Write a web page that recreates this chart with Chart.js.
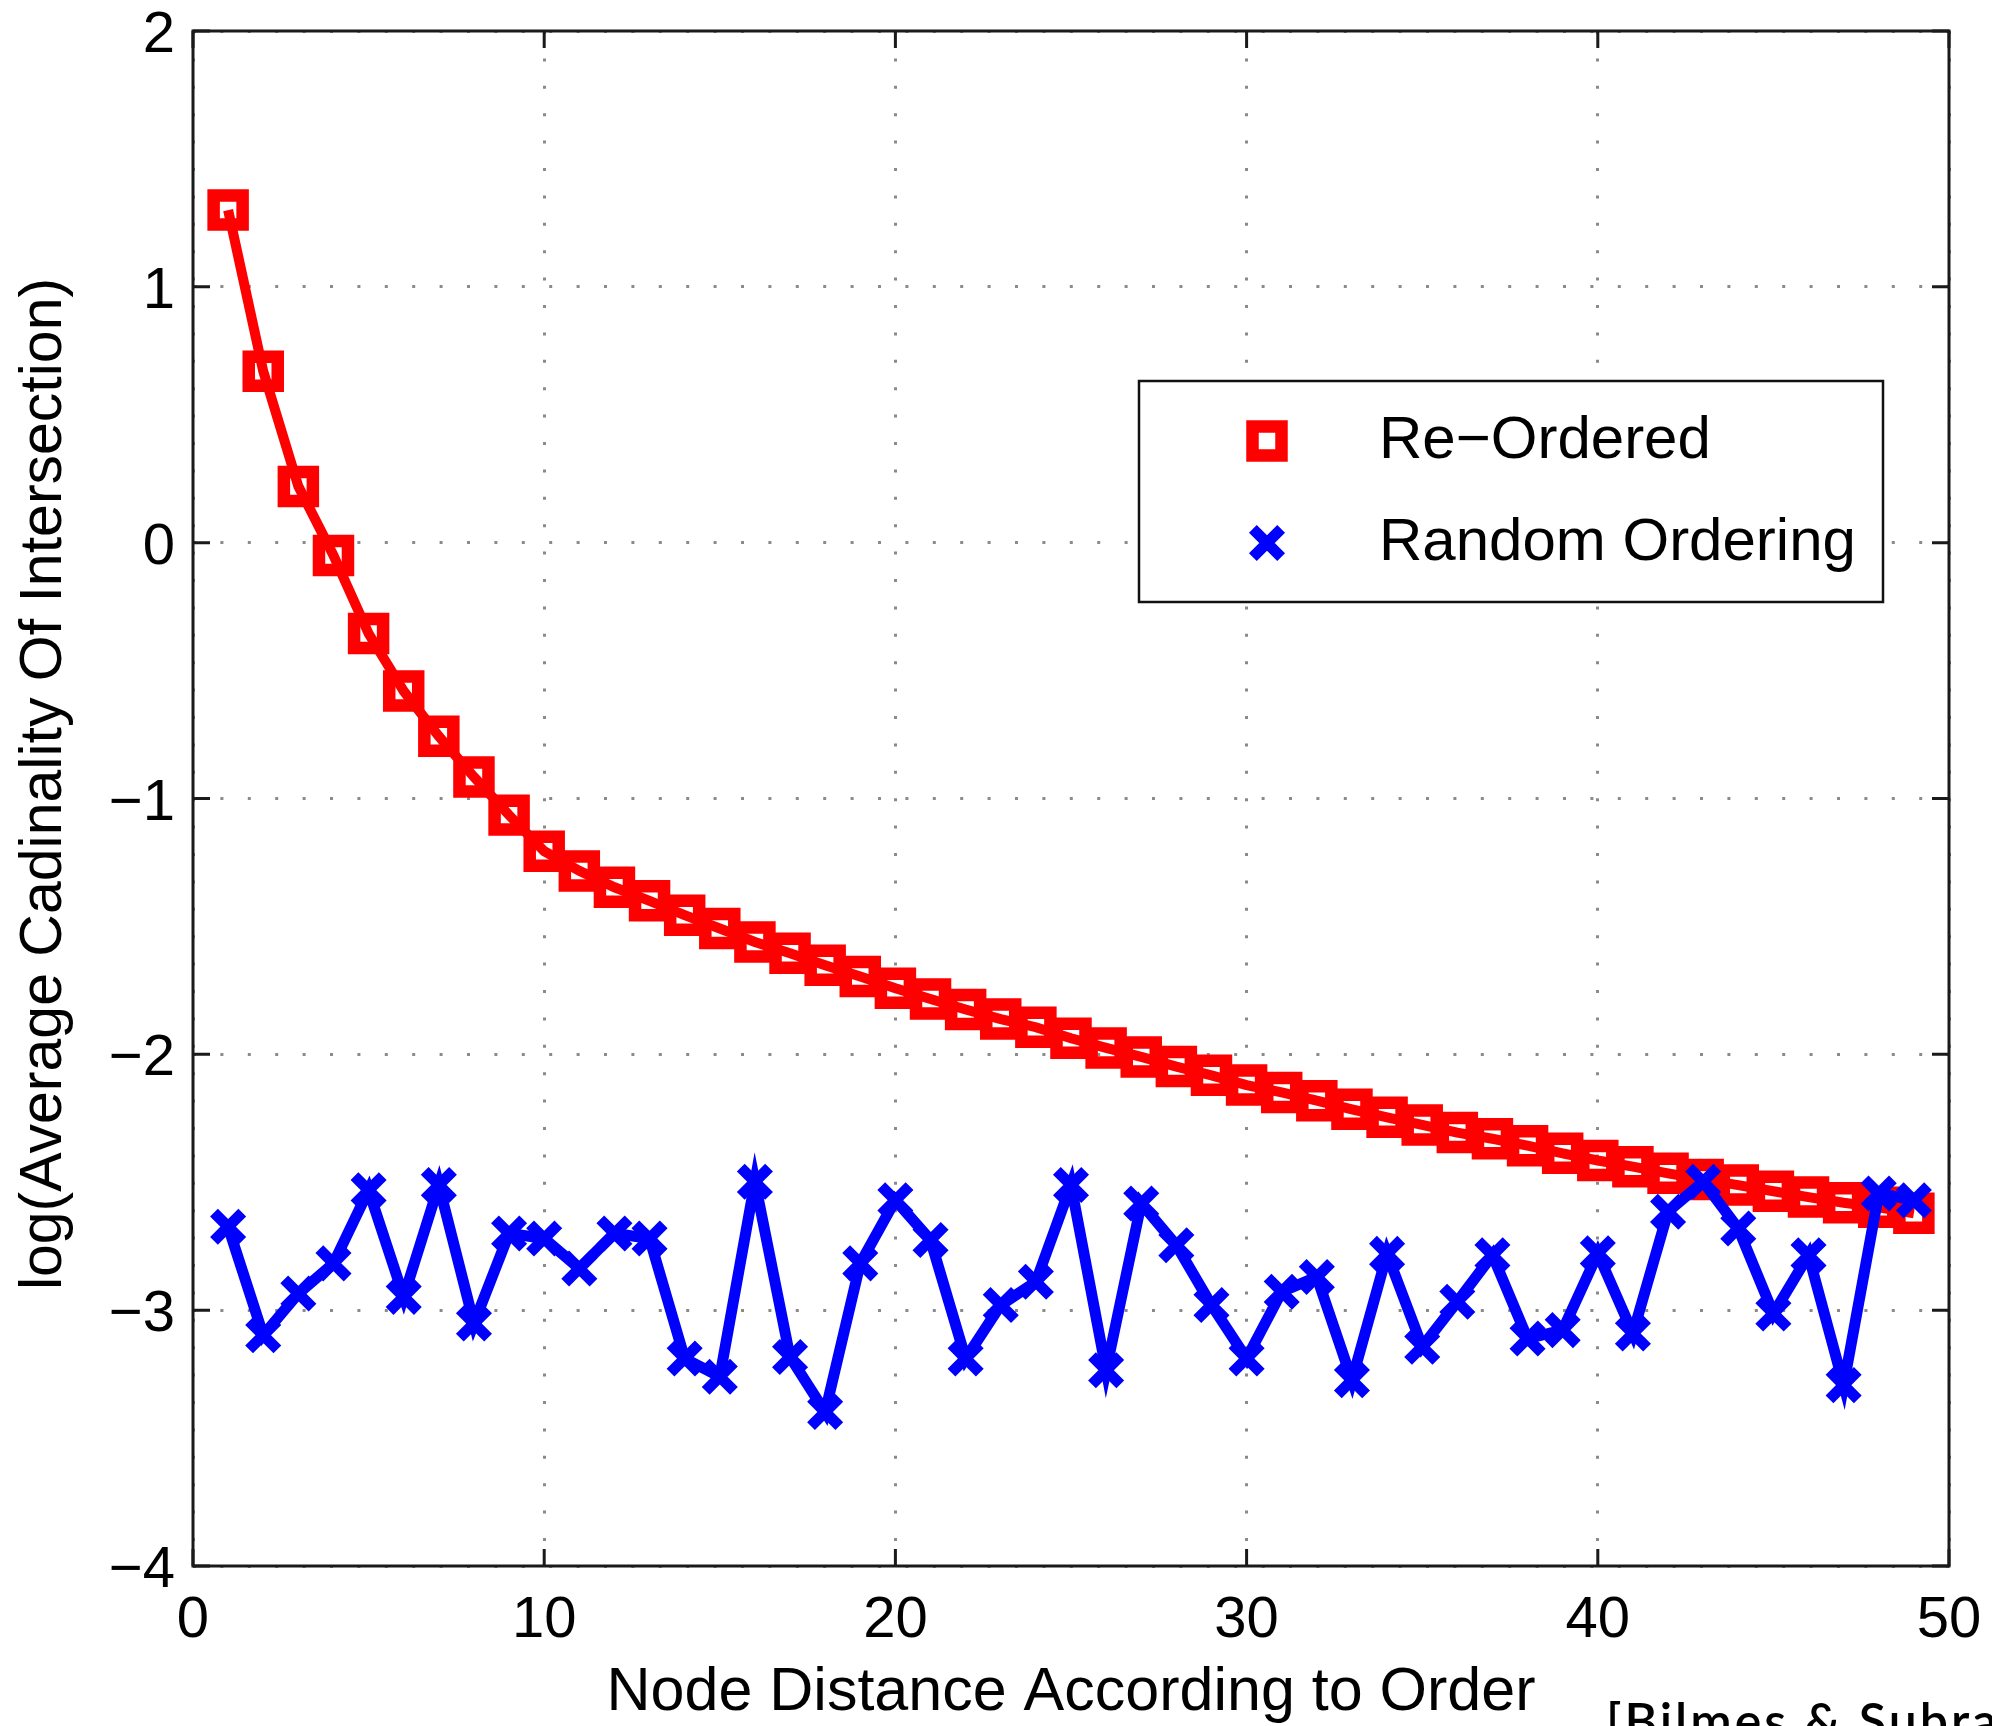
<!DOCTYPE html>
<html>
<head>
<meta charset="utf-8">
<script src="https://cdn.jsdelivr.net/npm/chart.js@4.4.1/dist/chart.umd.min.js"></script>
<style>
  html, body { margin: 0; padding: 0; background: #ffffff; }
  #wrap { width: 1992px; height: 1726px; position: relative; overflow: hidden; }
  canvas { display: block; }
</style>
</head>
<body>
<div id="wrap"><canvas id="chart" width="1992" height="1726"></canvas></div>
<script>
// Node distance along the ordering (x values)
const nodeDistance = [
  1, 2, 3, 4, 5, 6, 7, 8, 9, 10,
  11, 12, 13, 14, 15, 16, 17, 18, 19, 20,
  21, 22, 23, 24, 25, 26, 27, 28, 29, 30,
  31, 32, 33, 34, 35, 36, 37, 38, 39, 40,
  41, 42, 43, 44, 45, 46, 47, 48, 49
];

// log(average cardinality of intersection) for the re-ordered set
const reOrdered = [
  1.30, 0.67, 0.22, -0.05, -0.355, -0.58, -0.757, -0.916, -1.065, -1.206,
  -1.283, -1.347, -1.40, -1.456, -1.508, -1.561, -1.605, -1.652, -1.696, -1.742,
  -1.784, -1.825, -1.862, -1.894, -1.937, -1.975, -2.010, -2.048, -2.082, -2.12,
  -2.149, -2.181, -2.215, -2.246, -2.276, -2.306, -2.33, -2.357, -2.387, -2.415,
  -2.439, -2.465, -2.489, -2.511, -2.535, -2.558, -2.580, -2.598, -2.621
];

// same quantity for a random ordering
const randomOrdering = [
  -2.674, -3.098, -2.935, -2.817, -2.531, -2.948, -2.511, -3.052, -2.70, -2.72,
  -2.837, -2.70, -2.72, -3.189, -3.26, -2.498, -3.183, -3.398, -2.817, -2.570,
  -2.726, -3.189, -2.98, -2.889, -2.511, -3.235, -2.583, -2.746, -2.98, -3.189,
  -2.928, -2.87, -3.274, -2.78, -3.143, -2.967, -2.785, -3.111, -3.078, -2.778,
  -3.091, -2.615, -2.498, -2.681, -3.013, -2.785, -3.293, -2.544, -2.570
];

const xTicks = [0, 10, 20, 30, 40, 50];
const yTicks = [-4, -3, -2, -1, 0, 1, 2];
const seriesNames = ['Re\u2212Ordered', 'Random Ordering'];
const xTitle = 'Node Distance According to Order';
const yTitle = 'log(Average Cadinality Of Intersection)';
const citation = '[Bilmes & Subramanya]';

const FONT = "'Liberation Sans', Arial, Helvetica, sans-serif";
const RED = '#ff0000';
const BLUE = '#0000ff';

const SQUARE_R = 20.5, SQUARE_W = 12.5;
const CROSS_R = 20, CROSS_W = 11;

const toPoints = (xs, ys) => xs.map((x, i) => ({ x: x, y: ys[i] }));
const minusLabel = v => (v < 0 ? '\u2212' + Math.abs(v) : String(v));

// Square marker (outline) and X marker, used by the legend box
function drawSquareMarker(ctx, cx, cy) {
  ctx.save();
  ctx.strokeStyle = RED;
  ctx.lineWidth = SQUARE_W;
  const s = SQUARE_R * Math.SQRT1_2;
  ctx.strokeRect(cx - s, cy - s, 2 * s, 2 * s);
  ctx.restore();
}
function drawCrossMarker(ctx, cx, cy) {
  ctx.save();
  ctx.strokeStyle = BLUE;
  ctx.lineWidth = CROSS_W;
  const o = CROSS_R * Math.SQRT1_2;
  ctx.beginPath();
  ctx.moveTo(cx - o, cy - o); ctx.lineTo(cx + o, cy + o);
  ctx.moveTo(cx + o, cy - o); ctx.lineTo(cx - o, cy + o);
  ctx.stroke();
  ctx.restore();
}

// Y-axis title, centred a little above the middle of the axis
const yTitlePlugin = {
  id: 'yTitle',
  afterDraw(chart) {
    const { ctx } = chart;
    ctx.save();
    ctx.translate(45, 784);
    ctx.rotate(-Math.PI / 2);
    ctx.fillStyle = '#000000';
    ctx.font = '59px ' + FONT;
    ctx.textAlign = 'center';
    ctx.textBaseline = 'middle';
    ctx.fillText(yTitle, 0, 0);
    ctx.restore();
  }
};

// Axes box with inward tick marks on all four sides
const framePlugin = {
  id: 'frame',
  afterDatasetsDraw(chart) {
    const { ctx, chartArea: a, scales } = chart;
    const xs = scales.x, ys = scales.y;
    const tl = 17;
    ctx.save();
    ctx.strokeStyle = '#1a1a1a';
    ctx.lineWidth = 3;
    ctx.strokeRect(a.left, a.top, a.right - a.left, a.bottom - a.top);
    ctx.beginPath();
    xTicks.forEach(v => {
      const px = xs.getPixelForValue(v);
      ctx.moveTo(px, a.bottom); ctx.lineTo(px, a.bottom - tl);
      ctx.moveTo(px, a.top); ctx.lineTo(px, a.top + tl);
    });
    yTicks.forEach(v => {
      const py = ys.getPixelForValue(v);
      ctx.moveTo(a.left, py); ctx.lineTo(a.left + tl, py);
      ctx.moveTo(a.right, py); ctx.lineTo(a.right - tl, py);
    });
    ctx.stroke();
    ctx.restore();
  }
};

// Boxed legend in the upper right of the plot area
const legendBoxPlugin = {
  id: 'legendBox',
  afterDatasetsDraw(chart) {
    const { ctx, chartArea: a } = chart;
    const w = 744, h = 221;
    const left = a.right - 66 - w;
    const top = a.top + 350;
    ctx.save();
    ctx.fillStyle = '#ffffff';
    ctx.fillRect(left, top, w, h);
    ctx.strokeStyle = '#111111';
    ctx.lineWidth = 2.5;
    ctx.strokeRect(left, top, w, h);
    const rows = [top + 60, top + 162];
    drawSquareMarker(ctx, left + 128, rows[0]);
    drawCrossMarker(ctx, left + 128, rows[1]);
    ctx.fillStyle = '#000000';
    ctx.font = '60px ' + FONT;
    ctx.textAlign = 'left';
    ctx.textBaseline = 'middle';
    ctx.fillText(seriesNames[0], left + 240, rows[0]);
    ctx.fillText(seriesNames[1], left + 240, rows[1]);
    ctx.restore();
  }
};

// Source note in the lower right corner
const citationPlugin = {
  id: 'citation',
  afterDraw(chart) {
    const { ctx } = chart;
    ctx.save();
    ctx.fillStyle = '#000000';
    ctx.font = "600 50px Lato, 'Open Sans', sans-serif";
    try { ctx.letterSpacing = '3px'; } catch (e) {}
    ctx.textAlign = 'left';
    ctx.textBaseline = 'alphabetic';
    ctx.fillText(citation, 1606, 1739);
    ctx.restore();
  }
};

const gridCommon = {
  color: '#8a8a8a',
  lineWidth: 3,
  drawTicks: false
};

// keep tick-label overhang from shrinking the plot area
const noEdgePadding = s => {
  s.paddingTop = 0; s.paddingBottom = 0; s.paddingLeft = 0; s.paddingRight = 0;
};

new Chart(document.getElementById('chart'), {
  type: 'line',
  data: {
    datasets: [
      {
        label: seriesNames[0],
        data: toPoints(nodeDistance, reOrdered),
        borderColor: RED,
        borderWidth: 10,
        pointStyle: 'rect',
        pointRadius: SQUARE_R,
        pointBorderWidth: SQUARE_W,
        pointBorderColor: RED,
        pointBackgroundColor: 'rgba(0,0,0,0)',
        tension: 0,
        order: 2
      },
      {
        label: seriesNames[1],
        data: toPoints(nodeDistance, randomOrdering),
        borderColor: BLUE,
        borderWidth: 11,
        pointStyle: 'crossRot',
        pointRadius: CROSS_R,
        pointBorderWidth: CROSS_W,
        pointBorderColor: BLUE,
        pointBackgroundColor: BLUE,
        tension: 0,
        order: 1
      }
    ]
  },
  options: {
    responsive: false,
    animation: false,
    events: [],
    devicePixelRatio: 1,
    layout: { autoPadding: false, padding: { left: 0, top: 31, right: 43, bottom: 0 } },
    plugins: {
      legend: { display: false },
      tooltip: { enabled: false },
      title: { display: false }
    },
    scales: {
      x: {
        type: 'linear',
        min: 0,
        max: 50,
        afterBuildTicks: s => { s.ticks = xTicks.map(v => ({ value: v })); },
        afterFit: s => { s.height = 160; noEdgePadding(s); },
        grid: gridCommon,
        border: { display: false, dash: [3, 24.4] },
        ticks: {
          color: '#000000',
          padding: 26,
          maxRotation: 0,
          autoSkip: false,
          font: { family: FONT, size: 58, lineHeight: 1 },
          callback: v => minusLabel(v)
        },
        title: {
          display: true,
          text: xTitle,
          color: '#000000',
          font: { family: FONT, size: 61, lineHeight: 1 },
          padding: { top: 0, bottom: 2 }
        }
      },
      y: {
        type: 'linear',
        min: -4,
        max: 2,
        afterBuildTicks: s => { s.ticks = yTicks.map(v => ({ value: v })); },
        afterFit: s => { s.width = 193; noEdgePadding(s); },
        grid: gridCommon,
        border: { display: false, dash: [3, 24.4] },
        ticks: {
          color: '#000000',
          padding: 18,
          labelOffset: 5,
          autoSkip: false,
          font: { family: FONT, size: 58, lineHeight: 1 },
          callback: v => minusLabel(v)
        }
      }
    }
  },
  plugins: [framePlugin, legendBoxPlugin, yTitlePlugin, citationPlugin]
});
</script>
</body>
</html>
